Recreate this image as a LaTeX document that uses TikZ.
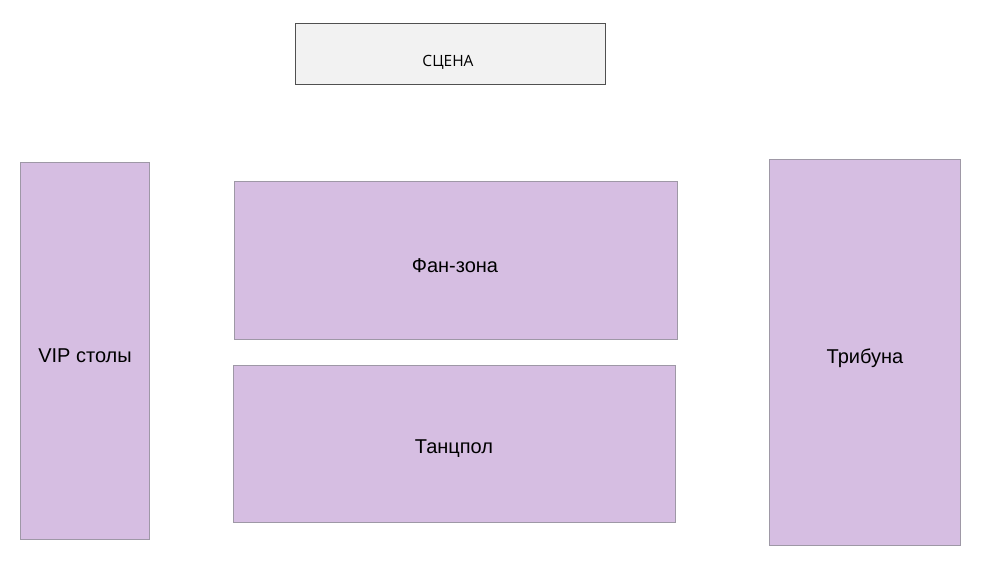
\documentclass[tikz,border=0pt]{standalone}
\usepackage{fontspec}
\setmainfont{Liberation Sans}
\newfontfamily\stagefont{Open Sans}
\definecolor{zonefill}{HTML}{D6BEE2}
\definecolor{zonedraw}{HTML}{9E98A6}
\definecolor{stagefill}{HTML}{F2F2F2}
\definecolor{stagedraw}{HTML}{505050}
\begin{document}
\begin{tikzpicture}[x=1pt,y=-1pt,
  zone/.style={draw=zonedraw,fill=zonefill,line width=1pt},
  stagebox/.style={draw=stagedraw,fill=stagefill,line width=1pt},
  lbl/.style={font=\fontsize{20}{24}\selectfont,inner sep=0pt}]
\useasboundingbox[fill=white] (0,0) rectangle (982,568);
\draw[stagebox] (295,23) rectangle (605,84);
\node[inner sep=0pt,font=\stagefont\fontsize{15.5}{18}\selectfont] (scena) at (448,62) {СЦЕНА};
\draw[zone] (20,162) rectangle (149,539);
\node[lbl] (vip) at (85,356) {VIP столы};
\draw[zone] (234,181) rectangle (677,339);
\node[lbl] (fan) at (455,266) {Фан-зона};
\draw[zone] (233,365) rectangle (675,522);
\node[lbl] (tanc) at (454,449) {Танцпол};
\draw[zone] (769,159) rectangle (960,545);
\node[lbl] (trib) at (865,358) {Трибуна};
\end{tikzpicture}
\end{document}
